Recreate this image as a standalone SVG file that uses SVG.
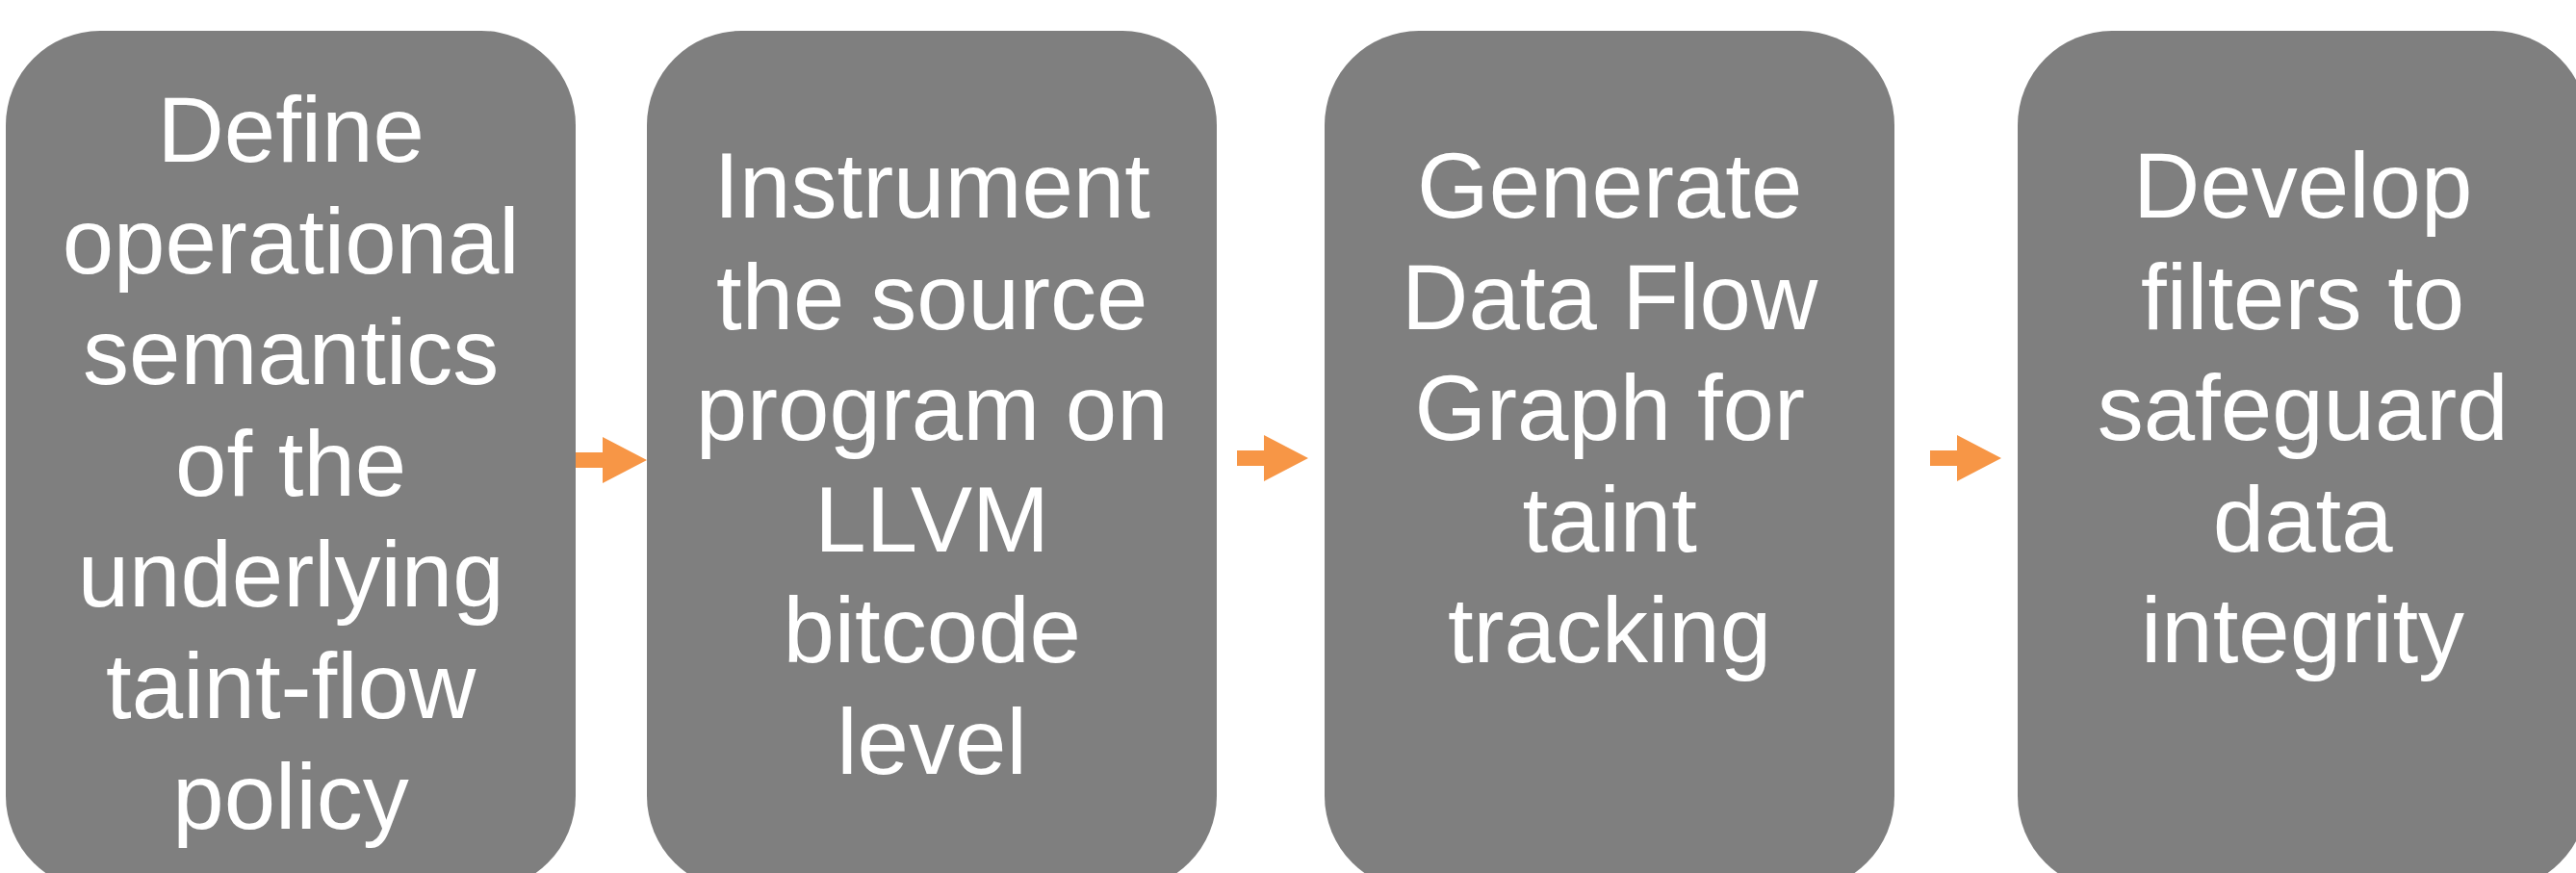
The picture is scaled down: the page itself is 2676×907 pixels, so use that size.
<svg xmlns="http://www.w3.org/2000/svg" width="2676" height="907" viewBox="0 0 2676 907">
  <style>
    .step { fill: #7F7F7F; }
    .label { fill: #FFFFFF; font-family: "Liberation Sans", Arial, sans-serif; font-size: 96px; text-anchor: middle; }
    .arrow { fill: #F79646; }
  </style>
  <defs>
    <!-- block arrow: 16px shaft, 48px head, 74px long, pointing right from origin -->
    <path id="blockArrow" d="M0,-8 H28 V-24 L74,0 L28,24 V8 H0 Z"/>
  </defs>
  <rect width="2676" height="907" fill="#FFFFFF"/>

  <!-- wrapped lines keep their trailing space, so they sit half a space right of centre -->
  <g id="step1">
    <rect class="step" x="6" y="32" width="592" height="893" rx="98" ry="98"/>
    <text class="label">
      <tspan x="315.5" y="168">Define</tspan>
      <tspan x="315.5" y="283.5">operational</tspan>
      <tspan x="315.5" y="399">semantics</tspan>
      <tspan x="315.5" y="514.5">of the</tspan>
      <tspan x="315.5" y="630">underlying</tspan>
      <tspan x="315.5" y="745.5">taint-flow</tspan>
      <tspan x="302" y="861">policy</tspan>
    </text>
  </g>

  <g id="step2">
    <rect class="step" x="672" y="32" width="592" height="893" rx="98" ry="98"/>
    <text class="label">
      <tspan x="981.5" y="226">Instrument</tspan>
      <tspan x="981.5" y="341.5">the source</tspan>
      <tspan x="981.5" y="457">program on</tspan>
      <tspan x="981.5" y="572.5">LLVM</tspan>
      <tspan x="981.5" y="688">bitcode</tspan>
      <tspan x="968" y="803.5">level</tspan>
    </text>
  </g>

  <g id="step3">
    <rect class="step" x="1376" y="32" width="592" height="893" rx="98" ry="98"/>
    <text class="label">
      <tspan x="1685.5" y="226">Generate</tspan>
      <tspan x="1685.5" y="341.5">Data Flow</tspan>
      <tspan x="1685.5" y="457">Graph for</tspan>
      <tspan x="1685.5" y="572.5">taint</tspan>
      <tspan x="1672" y="688">tracking</tspan>
    </text>
  </g>

  <g id="step4">
    <rect class="step" x="2096" y="32" width="592" height="893" rx="98" ry="98"/>
    <text class="label">
      <tspan x="2405.5" y="226">Develop</tspan>
      <tspan x="2405.5" y="341.5">filters to</tspan>
      <tspan x="2405.5" y="457">safeguard</tspan>
      <tspan x="2405.5" y="572.5">data</tspan>
      <tspan x="2392" y="688">integrity</tspan>
    </text>
  </g>

  <g id="connectors">
    <use class="arrow" href="#blockArrow" x="598" y="478"/>
    <use class="arrow" href="#blockArrow" x="1285" y="476"/>
    <use class="arrow" href="#blockArrow" x="2005" y="476"/>
  </g>
</svg>
